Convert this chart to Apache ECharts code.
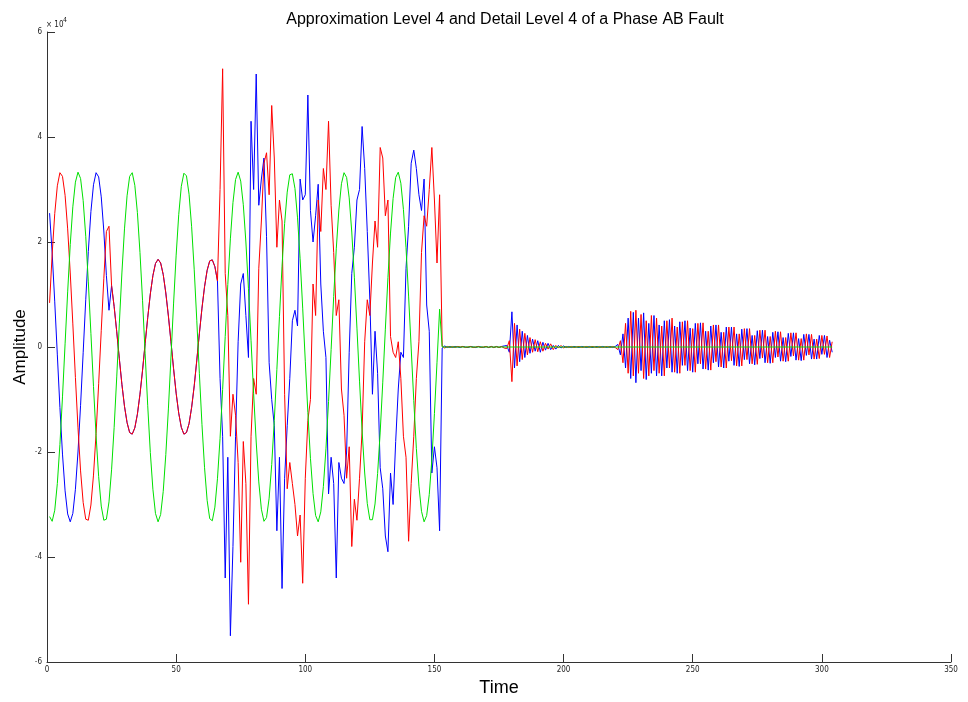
<!DOCTYPE html>
<html>
<head>
<meta charset="utf-8">
<script src="https://cdn.jsdelivr.net/npm/echarts@6/dist/echarts.min.js"></script>
<style>
  html, body { margin: 0; padding: 0; background: #ffffff; }
  #chart { width: 968px; height: 702px; }
</style>
</head>
<body>
<div id="chart"></div>
<script>
// Amplitudes are in units of 1e4 (the axis carries the "x 10^4" multiplier).
// Samples 1..152: level-4 approximation; samples 153..304: level-4 detail.

const approxRed = [
  0.84, 1.77, 2.54, 3.07, 3.32, 3.25, 2.89, 2.25, 1.41, 0.44,
  -0.58, -1.54, -2.36, -2.96, -3.28, -3.30, -3.01, -2.44, -1.65, -0.70,
  0.31, 1.30, 2.20, 2.30,
  1.17, 0.77, 0.29, -0.22, -0.71, -1.13, -1.44, -1.63, -1.66, -1.54,
  -1.28, -0.90, -0.44, 0.07, 0.56, 1.01, 1.36, 1.59, 1.67, 1.60,
  1.38, 1.03, 0.59, 0.10, -0.41, -0.88, -1.26, -1.53, -1.66, -1.63,
  -1.46, -1.15, -0.74, -0.25, 0.26, 0.74, 1.15, 1.46, 1.64, 1.66,
  1.53, 1.26,
  3.0, 5.3, 1.4, 0.6, -1.7, -0.9, -1.3, -2.2, -4.1, -1.8,
  -2.6, -4.9, -1.7, -0.6, -0.9, 1.5, 2.4, 3.5, 3.7, 2.9,
  4.6, 3.6, 1.9, 2.8, 2.4, -0.9, -2.7, -2.2, -2.6, -3.0,
  -3.6, -3.2, -4.5, -2.5, -1.4, -1.0, 1.2, 0.6, 2.8, 2.2,
  3.4, 3.0, 4.3, 2.7, 1.8, 0.6, 0.9, -0.8, -1.3, -2.5,
  -1.9, -3.8, -2.9, -3.3, -2.5, -1.6, 0.1, 0.9, 0.6, 1.6,
  2.4, 1.9, 3.8, 3.6, 2.5, 2.8, 0.2, -0.1, -0.2, 0.1,
  -0.6, -1.7, -2.1, -3.7, -2.6, -1.7, -0.6, 0.1, 1.8, 2.5,
  2.3, 3.0, 3.8, 2.8, 1.6, 2.9
];

const approxBlue = [
  2.55, 1.79, 0.86, -0.15, -1.15, -2.04, -2.74, -3.18, -3.33, -3.17,
  -2.71, -2.00, -1.11, -0.11, 0.90, 1.82, 2.58, 3.09, 3.32, 3.24,
  2.86, 2.21, 1.36, 0.70,
  1.17, 0.77, 0.29, -0.22, -0.71, -1.13, -1.44, -1.63, -1.66, -1.54,
  -1.28, -0.90, -0.44, 0.07, 0.56, 1.01, 1.36, 1.59, 1.67, 1.60,
  1.38, 1.03, 0.59, 0.10, -0.41, -0.88, -1.26, -1.53, -1.66, -1.63,
  -1.46, -1.15, -0.74, -0.25, 0.26, 0.74, 1.15, 1.46, 1.64, 1.66,
  1.53, 1.26,
  -0.6, -1.7, -4.4, -2.1, -5.5, -3.8, -1.7, 0.1, 1.2, 1.4,
  0.6, -0.2, 4.3, 3.0, 5.2, 2.7, 3.2, 3.6, 2.1, -0.3,
  -1.0, -1.5, -3.5, -2.1, -4.6, -2.5, -1.5, -0.6, 0.5, 0.7,
  0.4, 3.2, 2.8, 2.9, 4.8, 2.6, 2.0, 2.5, 3.1, 1.2,
  0.3, -0.2, -2.8, -2.1, -2.6, -4.4, -2.2, -2.5, -2.6, -2.0,
  -0.1, 1.4, 1.9, 2.8, 3.0, 4.2, 3.4, 2.2, 0.9, -0.9,
  0.3, -0.5, -2.3, -2.7, -3.6, -3.9, -2.4, -3.0, -1.8, -0.8,
  -0.1, -0.2, 1.5, 2.3, 3.5, 3.75, 3.4, 2.9, 2.6, 3.2,
  0.8, 0.3, -2.4, -1.9, -2.3, -3.5
];

const approxGreen = [
  -3.23, -3.32, -3.11, -2.60, -1.86, -0.95, 0.06, 1.05, 1.95, 2.67,
  3.14, 3.33, 3.21, 2.79, 2.11, 1.24, 0.26, -0.75, -1.69, -2.47,
  -3.03, -3.30, -3.28, -2.95, -2.34, -1.53, -0.57, 0.44, 1.41, 2.25,
  2.88, 3.25, 3.32, 3.08, 2.56, 1.80, 0.88, -0.13, -1.12, -2.01,
  -2.71, -3.17, -3.33, -3.19, -2.75, -2.05, -1.18, -0.19, 0.82, 1.75,
  2.52, 3.06, 3.31, 3.26, 2.91, 2.29, 1.47, 0.50, -0.51, -1.48,
  -2.30, -2.92, -3.27, -3.31, -3.05, -2.51, -1.74, -0.81, 0.20, 1.19,
  2.06, 2.75, 3.19, 3.33, 3.16, 2.71, 2.00, 1.11, 0.12, -0.89,
  -1.81, -2.57, -3.09, -3.32, -3.25, -2.88, -2.24, -1.40, -0.43, 0.58,
  1.54, 2.35, 2.95, 3.28, 3.30, 3.02, 2.46, 1.68, 0.74, -0.27,
  -1.25, -2.12, -2.79, -3.21, -3.33, -3.14, -2.66, -1.94, -1.04, -0.05,
  0.96, 1.87, 2.61, 3.11, 3.32, 3.23, 2.84, 2.19, 1.33, 0.36,
  -0.65, -1.60, -2.40, -2.98, -3.29, -3.29, -2.99, -2.41, -1.62, -0.67,
  0.34, 1.32, 2.17, 2.83, 3.23, 3.33, 3.12, 2.62, 1.89, 0.97,
  -0.02, -1.02, -1.93, -2.65, -3.13, -3.33, -3.21, -2.81, -2.14, -1.27,
  -0.29, 0.72
];

const detailRed = [
  0.02, -0.02, 0.01, -0.01, 0.01, -0.01, 0.01, 0, 0.01, -0.01,
  0, 0.01, -0.01, 0, 0.01, -0.01, 0, 0.01, -0.01, 0.01,
  -0.01, 0.01, -0.01, 0.01, -0.02,
  -0.03, 0.12, -0.66, 0.45, -0.36, 0.34, -0.24, 0.26, -0.15, 0.18,
  -0.1, 0.14, -0.09, 0.1, -0.08, 0.07, -0.04, 0.06, -0.05, 0.03,
  -0.02, 0.03, -0.02,
  0.01, -0.01, 0.01, -0.01, 0, 0.01, -0.01, 0, 0.01, -0.01,
  0.01, 0, -0.01, 0.01, -0.01, 0, 0.01, -0.01, 0.01, -0.01,
  -0.05, 0.12, -0.3, 0.45, -0.5, 0.68, -0.55, 0.7, -0.5, 0.62,
  -0.6, 0.5, -0.55, 0.6, -0.45, 0.55, -0.5, 0.4, -0.55, 0.5,
  -0.4, 0.55, -0.48, 0.38, -0.5, 0.48, -0.35, 0.5, -0.45, 0.35,
  -0.48, 0.45, -0.32, 0.46, -0.42, 0.3, -0.44, 0.42, -0.28, 0.42,
  -0.38, 0.28, -0.4, 0.38, -0.26, 0.38, -0.36, 0.25, -0.36, 0.35,
  -0.24, 0.35, -0.32, 0.22, -0.33, 0.32, -0.21, 0.32, -0.3, 0.2,
  -0.3, 0.3, -0.19, 0.29, -0.27, 0.18, -0.27, 0.27, -0.17, 0.27,
  -0.25, 0.16, -0.25, 0.25, -0.15, 0.24, -0.23, 0.15, -0.22, 0.22,
  -0.14, 0.21, -0.2, 0.1
];

const detailBlue = [
  -0.02, 0.02, -0.01, 0.01, -0.01, 0.01, 0, -0.01, 0.01, 0,
  -0.01, 0.01, 0, -0.01, 0.01, 0, -0.01, 0.01, -0.01, 0.01,
  -0.01, 0.01, -0.01, 0.01, 0.02,
  0.03, -0.1, 0.67, -0.4, 0.42, -0.28, 0.3, -0.2, 0.22, -0.12,
  0.15, -0.08, 0.12, -0.1, 0.09, -0.06, 0.07, -0.05, 0.03, -0.04,
  0.03, -0.02, 0.02,
  -0.01, 0.01, -0.01, 0.01, 0, -0.01, 0.01, 0, -0.01, 0.01,
  -0.01, 0, 0.01, -0.01, 0.01, 0, -0.01, 0.01, -0.01, 0.01,
  0.05, -0.15, 0.25, -0.4, 0.55, -0.6, 0.66, -0.68, 0.55, -0.45,
  0.65, -0.62, 0.45, -0.5, 0.6, -0.55, 0.42, -0.55, 0.5, -0.4,
  0.52, -0.48, 0.4, -0.5, 0.48, -0.35, 0.5, -0.45, 0.36, -0.48,
  0.45, -0.32, 0.46, -0.42, 0.3, -0.44, 0.4, -0.3, 0.42, -0.38,
  0.28, -0.4, 0.38, -0.27, 0.38, -0.35, 0.25, -0.37, 0.34, -0.24,
  0.35, -0.32, 0.22, -0.34, 0.31, -0.22, 0.32, -0.3, 0.2, -0.31,
  0.28, -0.2, 0.29, -0.27, 0.18, -0.28, 0.26, -0.18, 0.27, -0.25,
  0.16, -0.26, 0.24, -0.16, 0.24, -0.23, 0.15, -0.23, 0.22, -0.14,
  0.22, -0.2, 0.13, -0.1
];

const detailGreen = [
  0, 0, 0, 0, 0, 0, 0, 0, 0, 0, 0, 0, 0, 0, 0, 0, 0, 0, 0, 0,
  0, 0, 0, 0, 0, 0, 0, 0, 0, 0, 0, 0, 0, 0, 0, 0, 0, 0, 0, 0,
  0, 0, 0, 0, 0, 0, 0, 0, 0, 0, 0, 0, 0, 0, 0, 0, 0, 0, 0, 0,
  0, 0, 0, 0, 0, 0, 0, 0, 0, 0, 0, 0, 0, 0, 0, 0, 0, 0, 0, 0,
  0, 0, 0, 0, 0, 0, 0, 0, 0, 0, 0, 0, 0, 0, 0, 0, 0, 0, 0, 0,
  0, 0, 0, 0, 0, 0, 0, 0, 0, 0, 0, 0, 0, 0, 0, 0, 0, 0, 0, 0,
  0, 0, 0, 0, 0, 0, 0, 0, 0, 0, 0, 0, 0, 0, 0, 0, 0, 0, 0, 0,
  0, 0, 0, 0, 0, 0, 0, 0, 0, 0, 0, 0
];

const xTicks = [0, 50, 100, 150, 200, 250, 300, 350];
const yTicks = [-6, -4, -2, 0, 2, 4, 6];

const titleText = 'Approximation Level 4 and Detail Level 4 of a Phase AB Fault';
const xName = 'Time';
const yName = 'Amplitude';

// Each trace: approximation followed by detail, indexed from sample 1.
function toPoints(a, b) {
  return a.concat(b).map((v, i) => [i + 1, v]);
}

const tickFont = {
  fontSize: 8,
  fontFamily: '"Liberation Sans Narrow", "DejaVu Sans Condensed", "Liberation Sans", sans-serif',
  color: '#222'
};
const axisColor = '#333';

const chart = echarts.init(document.getElementById('chart'), null, { renderer: 'canvas' });

chart.setOption({
  animation: false,
  backgroundColor: '#ffffff',
  title: {
    text: titleText,
    left: 500,
    top: 7,
    textAlign: 'center',
    textStyle: {
      fontSize: 16,
      fontWeight: 'normal',
      fontFamily: '"Liberation Sans", Arial, sans-serif',
      color: '#000'
    }
  },
  grid: { left: 47, right: 17, top: 32, bottom: 40, containLabel: false },
  xAxis: {
    type: 'value',
    min: xTicks[0],
    max: xTicks[xTicks.length - 1],
    interval: xTicks[1] - xTicks[0],
    axisLine: { show: true, onZero: false, lineStyle: { color: axisColor, width: 1 } },
    axisTick: { show: true, inside: true, length: 8, lineStyle: { color: axisColor } },
    axisLabel: Object.assign({ margin: 4 }, tickFont),
    splitLine: { show: false }
  },
  yAxis: {
    type: 'value',
    min: yTicks[0],
    max: yTicks[yTicks.length - 1],
    interval: yTicks[1] - yTicks[0],
    axisLine: { show: true, onZero: false, lineStyle: { color: axisColor, width: 1 } },
    axisTick: { show: true, inside: true, length: 8, lineStyle: { color: axisColor } },
    axisLabel: Object.assign({ margin: 5 }, tickFont),
    splitLine: { show: false }
  },
  graphic: [
    {
      type: 'text', left: 46, top: 21,
      style: { text: '× 10', fontSize: 8, fontFamily: tickFont.fontFamily, fill: '#222' }
    },
    {
      type: 'text', left: 63, top: 17,
      style: { text: '4', fontSize: 7, fontFamily: tickFont.fontFamily, fill: '#222' }
    },
    {
      type: 'text', x: 20, y: 347, rotation: Math.PI / 2,
      style: {
        text: yName, fontSize: 17, fontFamily: '"Liberation Sans", Arial, sans-serif',
        fill: '#000', align: 'center', verticalAlign: 'middle'
      }
    },
    {
      type: 'text', x: 499, y: 688,
      style: {
        text: xName, fontSize: 18, fontFamily: '"Liberation Sans", Arial, sans-serif',
        fill: '#000', align: 'center', verticalAlign: 'middle'
      }
    }
  ],
  series: [
    {
      name: 'Phase B', type: 'line', showSymbol: false, symbol: 'none', silent: true,
      lineStyle: { color: '#0000ff', width: 1 },
      data: toPoints(approxBlue, detailBlue)
    },
    {
      name: 'Phase A', type: 'line', showSymbol: false, symbol: 'none', silent: true,
      lineStyle: { color: '#ff0000', width: 1 },
      data: toPoints(approxRed, detailRed)
    },
    {
      name: 'Phase C', type: 'line', showSymbol: false, symbol: 'none', silent: true,
      lineStyle: { color: '#00e000', width: 1 },
      data: toPoints(approxGreen, detailGreen)
    }
  ]
});
</script>
</body>
</html>
